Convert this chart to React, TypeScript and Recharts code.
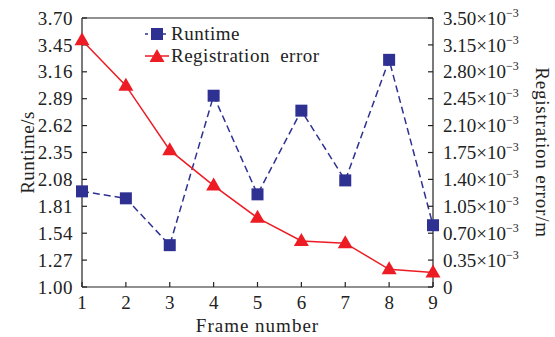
import { LineChart, Line, XAxis, YAxis, Legend, ReferenceLine } from 'recharts';

const FRAMES = [1, 2, 3, 4, 5, 6, 7, 8, 9];
const RUNTIME = [1.96, 1.89, 1.42, 2.92, 1.93, 2.77, 2.07, 3.28, 1.62];
const REG_ERROR = [3.21e-3, 2.62e-3, 1.78e-3, 1.32e-3, 0.9e-3, 0.6e-3, 0.57e-3, 0.23e-3, 0.19e-3];

const LEFT_TICKS = [1.0, 1.27, 1.54, 1.81, 2.08, 2.35, 2.62, 2.89, 3.16, 3.43, 3.7];
const LEFT_TICK_LABELS = ['1.00', '1.27', '1.54', '1.81', '2.08', '2.35', '2.62', '2.89', '3.16', '3.45', '3.70'];
const RIGHT_TICKS = [0, 0.35e-3, 0.7e-3, 1.05e-3, 1.4e-3, 1.75e-3, 2.1e-3, 2.45e-3, 2.8e-3, 3.15e-3, 3.5e-3];
const RIGHT_TICK_LABELS = ['0', '0.35', '0.70', '1.05', '1.40', '1.75', '2.10', '2.45', '2.80', '3.15', '3.50'];

const BLUE = '#2E3192';
const RED = '#ED1C24';
const AXIS = '#222';
const FONT = '"Liberation Serif", "Times New Roman", serif';

const data = FRAMES.map((f, i) => ({ frame: f, runtime: RUNTIME[i], error: REG_ERROR[i] }));

function Square(p: any) {
  if (p.cx == null) return null;
  return <rect key={`s${p.index}`} x={p.cx - 6} y={p.cy - 6} width={12} height={12} fill={BLUE} />;
}

function Triangle(p: any) {
  if (p.cx == null) return null;
  return (
    <polygon
      key={`t${p.index}`}
      points={`${p.cx},${p.cy - 8} ${p.cx - 7.5},${p.cy + 5} ${p.cx + 7.5},${p.cy + 5}`}
      fill={RED}
    />
  );
}

function LeftTick(p: any) {
  const i = LEFT_TICKS.indexOf(p.payload.value);
  return (
    <text x={p.x} y={p.y} dy="0.35em" textAnchor="end" fontFamily={FONT} fontSize={19} letterSpacing={0.5} fill={AXIS}>
      {LEFT_TICK_LABELS[i]}
    </text>
  );
}

function RightTick(p: any) {
  const i = RIGHT_TICKS.indexOf(p.payload.value);
  const label = RIGHT_TICK_LABELS[i];
  return (
    <text x={p.x} y={p.y} dy="0.35em" textAnchor="start" fontFamily={FONT} fontSize={19} fill={AXIS}>
      {label === '0' ? '0' : `${label}×10`}
      {label !== '0' && (
        <tspan dy={-8} fontSize={12}>
          −3
        </tspan>
      )}
    </text>
  );
}

function BottomTick(p: any) {
  return (
    <text x={p.x} y={p.y} dy="0.71em" textAnchor="middle" fontFamily={FONT} fontSize={19} fill={AXIS}>
      {p.payload.value}
    </text>
  );
}

function LegendBox() {
  const rows = [
    { name: 'Runtime', color: BLUE, dash: '3 3', shape: 'square' },
    { name: 'Registration error', color: RED, dash: undefined, shape: 'triangle' },
  ];
  return (
    <div style={{ fontFamily: FONT, fontSize: 19, letterSpacing: 0.5, wordSpacing: 5, lineHeight: '22px', color: AXIS }}>
      {rows.map((r) => (
        <div key={r.name} style={{ display: 'flex', alignItems: 'center', whiteSpace: 'nowrap' }}>
          <svg width={26} height={16} style={{ marginRight: 1 }}>
            <line x1={1} y1={8} x2={25} y2={8} stroke={r.color} strokeWidth={1.5} strokeDasharray={r.dash} />
            {r.shape === 'square' ? (
              <rect x={7} y={2} width={12} height={12} fill={r.color} />
            ) : (
              <polygon points="13,1 5.5,14 20.5,14" fill={r.color} />
            )}
          </svg>
          <span>{r.name}</span>
        </div>
      ))}
    </div>
  );
}

export default function App() {
  return (
    <div style={{ position: 'absolute', left: 0, top: 0, width: 555, height: 337, background: '#fff' }}>
      <LineChart width={555} height={337} data={data} margin={{ top: 18, right: 0, bottom: 0, left: 0 }}>
        <XAxis
          dataKey="frame"
          type="number"
          domain={[1, 9]}
          ticks={FRAMES}
          height={50}
          tickSize={-5}
          tickMargin={14}
          stroke={AXIS}
          strokeWidth={1.2}
          tick={<BottomTick />}
          label={(props: any) => {
            const vb = props.viewBox;
            return (
              <text x={vb.x + vb.width / 2} y={vb.y + 45} textAnchor="middle" fontFamily={FONT} fontSize={19} letterSpacing={1} fill={AXIS}>
                Frame number
              </text>
            );
          }}
        />
        <YAxis
          yAxisId="left"
          orientation="left"
          domain={[1, 3.7]}
          ticks={LEFT_TICKS}
          width={82}
          tickSize={-5}
          tickMargin={14}
          stroke={AXIS}
          strokeWidth={1.2}
          tick={<LeftTick />}
          label={(props: any) => {
            const vb = props.viewBox;
            const cx = 27;
            const cy = vb.y + vb.height / 2;
            return (
              <text x={cx} y={cy} transform={`rotate(-90 ${cx} ${cy})`} textAnchor="middle" dy="0.35em" fontFamily={FONT} fontSize={19} letterSpacing={0.5} fill={AXIS}>
                Runtime/s
              </text>
            );
          }}
        />
        <YAxis
          yAxisId="right"
          orientation="right"
          domain={[0, 3.5e-3]}
          ticks={RIGHT_TICKS}
          width={122}
          tickSize={-5}
          tickMargin={15}
          stroke={AXIS}
          strokeWidth={1.2}
          tick={<RightTick />}
          label={(props: any) => {
            const vb = props.viewBox;
            const cx = vb.x + 110;
            const cy = vb.y + vb.height / 2;
            return (
              <text x={cx} y={cy} transform={`rotate(90 ${cx} ${cy})`} textAnchor="middle" dy="0.35em" fontFamily={FONT} fontSize={19} letterSpacing={0.8} fill={AXIS}>
                Registration error/m
              </text>
            );
          }}
        />
        <ReferenceLine yAxisId="left" y={3.7} stroke={AXIS} strokeWidth={1.2} />
        <Legend
          layout="vertical"
          align="center"
          verticalAlign="middle"
          content={<LegendBox />}
          wrapperStyle={{ left: 144, top: 23, width: 'auto', height: 'auto' }}
        />
        <Line
          yAxisId="left"
          dataKey="runtime"
          name="Runtime"
          stroke={BLUE}
          strokeWidth={1.5}
          strokeDasharray="7 4"
          dot={Square}
          activeDot={false}
          isAnimationActive={false}
        />
        <Line
          yAxisId="right"
          dataKey="error"
          name="Registration error"
          stroke={RED}
          strokeWidth={1.5}
          dot={Triangle}
          activeDot={false}
          isAnimationActive={false}
        />
      </LineChart>
    </div>
  );
}
